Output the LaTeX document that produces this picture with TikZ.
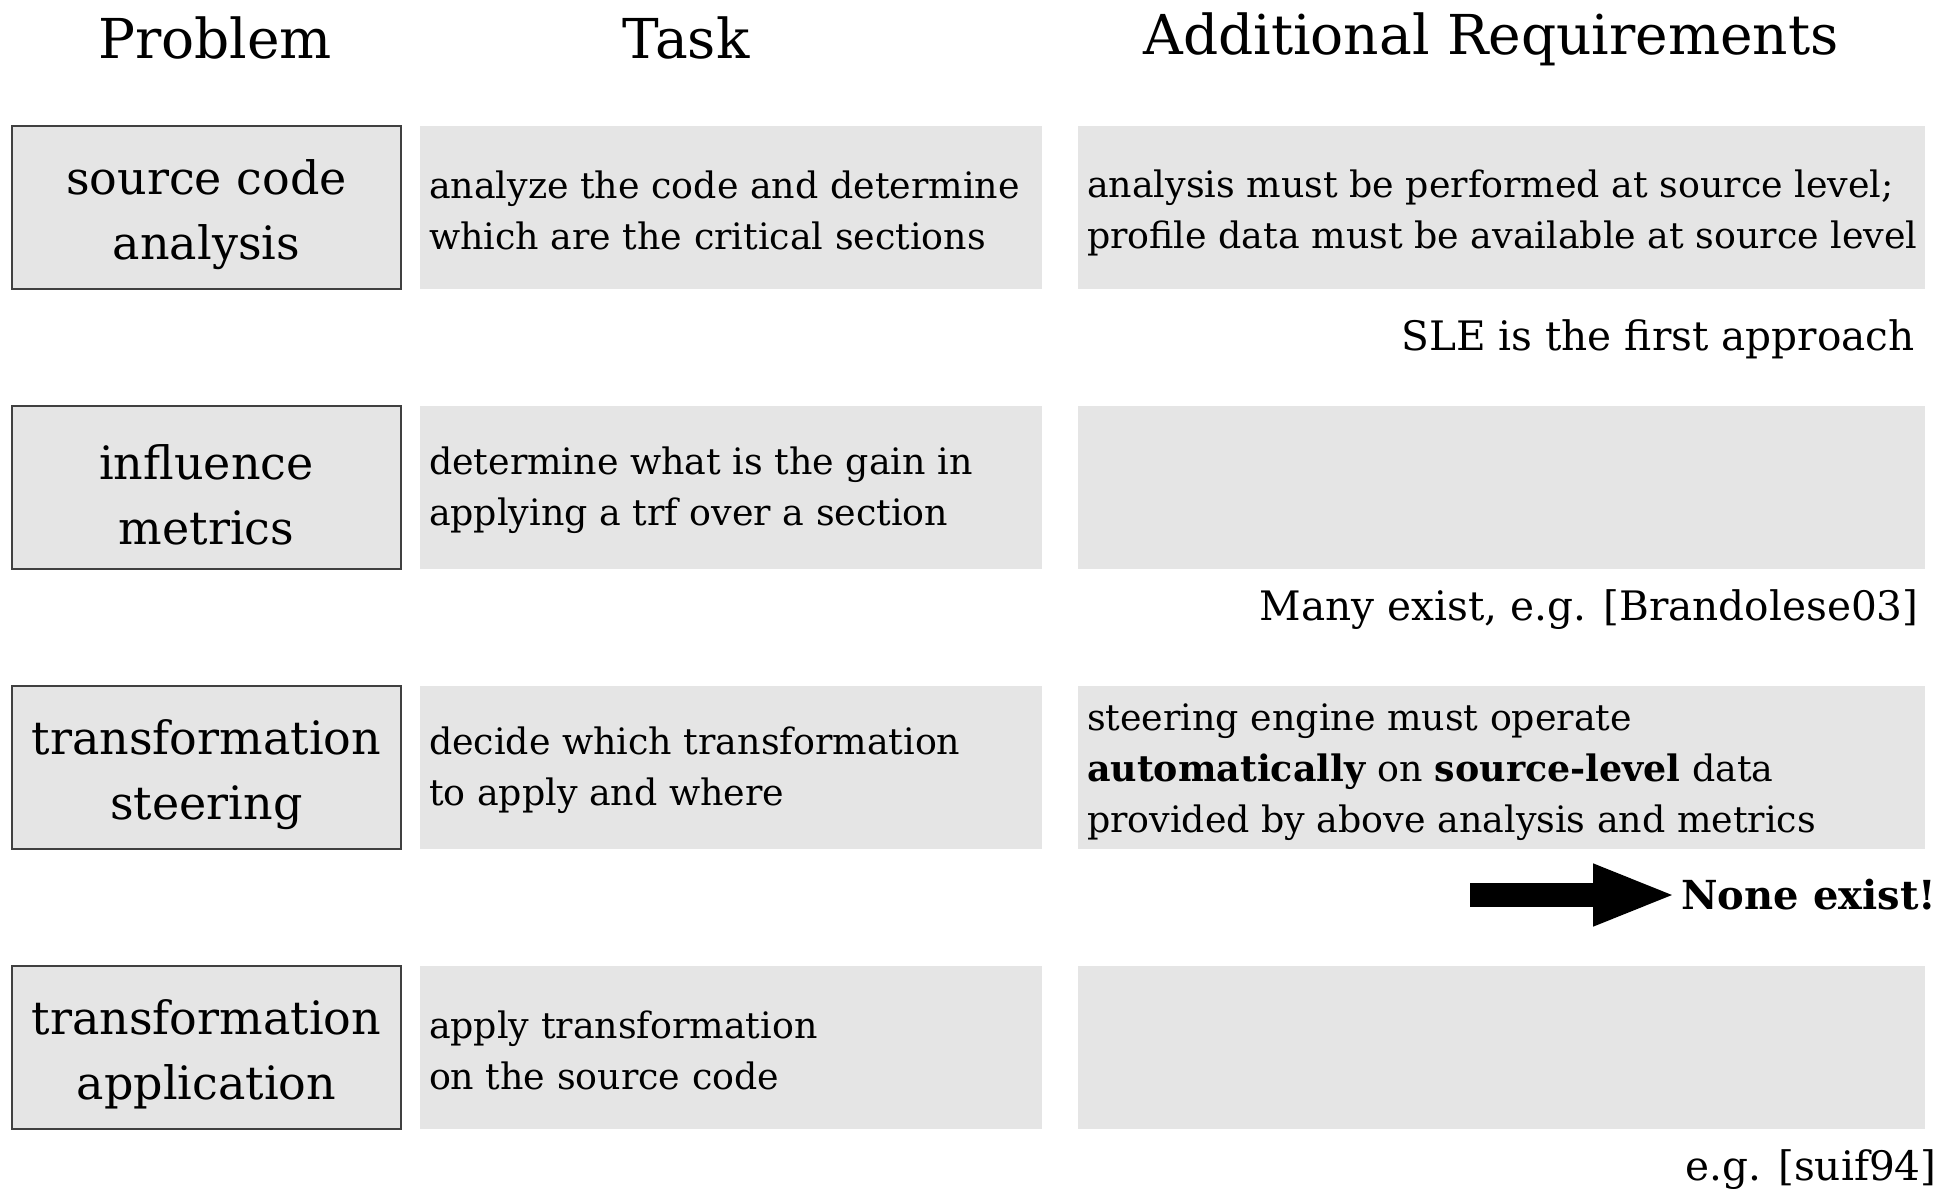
\documentclass[tikz,border=0pt]{standalone}
\usepackage{fontspec}
\setmainfont{DejaVu Serif}
\usetikzlibrary{arrows.meta}
\tikzset{
  probbox/.style={draw=black!75, line width=0.7pt, fill=black!10, minimum width=194.5pt, minimum height=81.5pt, inner sep=0pt},
  infobox/.style={fill=black!10, minimum width=311pt, minimum height=81.5pt, inner sep=0pt},
  reqbox/.style={fill=black!10, minimum width=423.5pt, minimum height=81.5pt, inner sep=0pt},
  headtxt/.style={font=\fontsize{27.5}{33}\selectfont, inner sep=0pt},
  probtxt/.style={font=\fontsize{23}{32.5}\selectfont, align=center, inner sep=0pt},
  bodytxt/.style={font=\fontsize{18.2}{25.5}\selectfont, align=left, anchor=west, inner sep=0pt},
  notetxt/.style={font=\fontsize{20.3}{25.5}\selectfont, anchor=east, inner sep=0pt},
  bigarrow/.style={line width=12pt, -{Triangle[length=42pt,width=28pt]}}
}
\begin{document}
\begin{tikzpicture}[x=0.5pt,y=-0.5pt]
\useasboundingbox (0,0) rectangle (1950,1189);
% column headings
\node[headtxt] (hprob) at (215,38) {Problem};
\node[headtxt] (htask) at (686,38) {Task};
\node[headtxt] (hreq) at (1491,39) {Additional Requirements};

% rows of boxes
\foreach \r/\yc in {1/207.5,2/487.5,3/767.5,4/1047.5}{
  \node[probbox] (p\r) at (206.5,\yc) {};
  \node[infobox] (t\r) at (731,\yc) {};
  \node[reqbox] (q\r) at (1501.5,\yc) {};
}

% problem names
\node[probtxt] (pt1) at ([yshift=-3.5pt]p1.center) {source code\\analysis};
\node[probtxt] (pt2) at ([yshift=-3.5pt]p2.center) {influence\\metrics};
\node[probtxt] (pt3) at ([yshift=-3.5pt]p3.center) {transformation\\steering};
\node[probtxt] (pt4) at ([yshift=-3.5pt]p4.center) {transformation\\application};

% tasks
\node[bodytxt] (tt1) at ([xshift=4.5pt,yshift=-1.5pt]t1.west) {analyze the code and determine\\which are the critical sections};
\node[bodytxt] (tt2) at ([xshift=4.5pt,yshift=-1.5pt]t2.west) {determine what is the gain in\\applying a trf over a section};
\node[bodytxt] (tt3) at ([xshift=4.5pt,yshift=-1.5pt]t3.west) {decide which transformation\\to apply and where};
\node[bodytxt] (tt4) at ([xshift=4.5pt,yshift=-1.5pt]t4.west) {apply transformation\\on the source code};

% additional requirements
\node[bodytxt] (qt1) at ([xshift=4.5pt,yshift=-2.5pt]q1.west) {analysis must be performed at source level;\\profile data must be available at source level};
\node[bodytxt] (qt3) at ([xshift=4.5pt,yshift=-2.5pt]q3.west) {steering engine must operate\\\textbf{automatically} on \textbf{source-level} data\\provided by above analysis and metrics};

% remarks below the rows
\node[notetxt] (n1) at (1915,339) {SLE is the first approach};
\node[notetxt] (n2) at (1919,610) {Many exist, e.g. [Brandolese03]};
\node[notetxt, font=\fontsize{20}{25.5}\selectfont\bfseries, anchor=west, inner sep=2pt] (n3) at (1677,895) {None exist!};
\node[notetxt] (n4) at (1937,1170) {e.g. [suif94]};

\coordinate (astart) at (1470,895);
\draw[bigarrow] (astart) -- (n3.west);
\end{tikzpicture}
\end{document}
